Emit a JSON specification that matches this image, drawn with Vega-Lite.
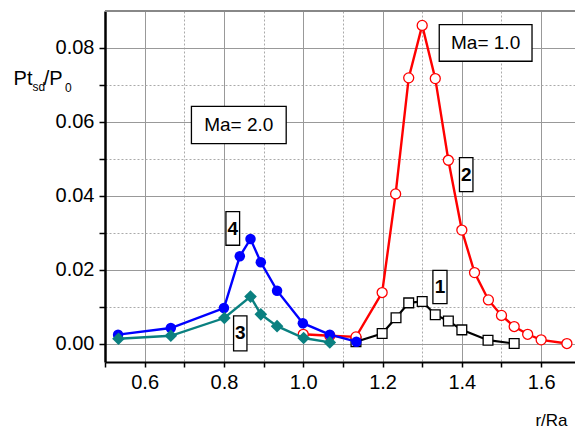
{
  "$schema": "https://vega.github.io/schema/vega-lite/v6.json",
  "width": 470,
  "height": 351,
  "autosize": {"type": "none"},
  "padding": {"left": 105, "top": 11, "right": 0, "bottom": 68},
  "background": "white",
  "config": {
    "view": {"stroke": null},
    "font": "Liberation Sans",
    "axis": {"labelFont": "Liberation Sans", "titleFont": "Liberation Sans"}
  },
  "datasets": {
    "curves": [
      {"r": 1.133, "p": 0.0005, "series": "1"},
      {"r": 1.199, "p": 0.0027, "series": "1"},
      {"r": 1.234, "p": 0.0070, "series": "1"},
      {"r": 1.266, "p": 0.0110, "series": "1"},
      {"r": 1.300, "p": 0.0114, "series": "1"},
      {"r": 1.333, "p": 0.0078, "series": "1"},
      {"r": 1.366, "p": 0.0061, "series": "1"},
      {"r": 1.400, "p": 0.0037, "series": "1"},
      {"r": 1.466, "p": 0.0009, "series": "1"},
      {"r": 1.532, "p": 0.0000, "series": "1"},
      {"r": 1.000, "p": 0.0025, "series": "2"},
      {"r": 1.067, "p": 0.0021, "series": "2"},
      {"r": 1.133, "p": 0.0018, "series": "2"},
      {"r": 1.199, "p": 0.0138, "series": "2"},
      {"r": 1.233, "p": 0.0405, "series": "2"},
      {"r": 1.266, "p": 0.0719, "series": "2"},
      {"r": 1.300, "p": 0.0861, "series": "2"},
      {"r": 1.333, "p": 0.0717, "series": "2"},
      {"r": 1.366, "p": 0.0496, "series": "2"},
      {"r": 1.400, "p": 0.0307, "series": "2"},
      {"r": 1.432, "p": 0.0192, "series": "2"},
      {"r": 1.467, "p": 0.0118, "series": "2"},
      {"r": 1.500, "p": 0.0076, "series": "2"},
      {"r": 1.532, "p": 0.0046, "series": "2"},
      {"r": 1.566, "p": 0.0025, "series": "2"},
      {"r": 1.600, "p": 0.0010, "series": "2"},
      {"r": 1.665, "p": 0.0000, "series": "2"},
      {"r": 0.534, "p": 0.0013, "series": "3"},
      {"r": 0.666, "p": 0.0021, "series": "3"},
      {"r": 0.801, "p": 0.0069, "series": "3"},
      {"r": 0.867, "p": 0.0127, "series": "3"},
      {"r": 0.893, "p": 0.0079, "series": "3"},
      {"r": 0.934, "p": 0.0047, "series": "3"},
      {"r": 1.001, "p": 0.0015, "series": "3"},
      {"r": 1.067, "p": 0.0003, "series": "3"},
      {"r": 0.533, "p": 0.0024, "series": "4"},
      {"r": 0.666, "p": 0.0042, "series": "4"},
      {"r": 0.800, "p": 0.0096, "series": "4"},
      {"r": 0.840, "p": 0.0236, "series": "4"},
      {"r": 0.867, "p": 0.0283, "series": "4"},
      {"r": 0.893, "p": 0.0220, "series": "4"},
      {"r": 0.934, "p": 0.0143, "series": "4"},
      {"r": 0.999, "p": 0.0055, "series": "4"},
      {"r": 1.067, "p": 0.0024, "series": "4"},
      {"r": 1.134, "p": 0.0005, "series": "4"}
    ],
    "boxes": [
      {"x1": 1.343, "x2": 1.577, "y1": 0.0764, "y2": 0.0863, "cx": 1.460, "cy": 0.0814, "label": "Ma= 1.0", "kind": "ma"},
      {"x1": 0.718, "x2": 0.957, "y1": 0.0541, "y2": 0.0642, "cx": 0.8374, "cy": 0.0592, "label": "Ma= 2.0", "kind": "ma"},
      {"x1": 0.805, "x2": 0.8395, "y1": 0.0266, "y2": 0.0357, "cx": 0.822, "cy": 0.0311, "label": "4", "kind": "num"},
      {"x1": 0.8243, "x2": 0.858, "y1": -0.0020, "y2": 0.0075, "cx": 0.841, "cy": 0.0028, "label": "3", "kind": "num"},
      {"x1": 1.394, "x2": 1.428, "y1": 0.0411, "y2": 0.0503, "cx": 1.411, "cy": 0.0457, "label": "2", "kind": "num"},
      {"x1": 1.327, "x2": 1.3626, "y1": 0.0108, "y2": 0.0198, "cx": 1.345, "cy": 0.0153, "label": "1", "kind": "num"}
    ],
    "titles": [
      {"tx": 0.2695, "ty": 0.0701, "t": "Pt", "sz": 20},
      {"tx": 0.3174, "ty": 0.0683, "t": "sd", "sz": 12},
      {"tx": 0.3456, "ty": 0.0701, "t": "/P", "sz": 20},
      {"tx": 0.3994, "ty": 0.0681, "t": "0", "sz": 12},
      {"tx": 1.5855, "ty": -0.0222, "t": "r/Ra", "sz": 17}
    ],
    "border": [{"yb": 0.09}]
  },
  "layer": [
    {
      "data": {"name": "curves"},
      "mark": {"type": "point", "opacity": 0},
      "encoding": {
        "x": {
          "field": "r", "type": "quantitative",
          "scale": {"domain": [0.5, 1.6854], "nice": false, "zero": false},
          "axis": {
            "orient": "bottom", "title": null,
            "values": [0.5, 0.6, 0.7, 0.8, 0.9, 1.0, 1.1, 1.2, 1.3, 1.4, 1.5, 1.6],
            "labelExpr": "round(datum.value*10) % 2 === 0 && datum.value > 0.55 ? format(datum.value, '.1f') : ''",
            "labelFontSize": 20, "labelColor": "black", "labelPadding": 5,
            "domainColor": "black", "domainWidth": 2,
            "tickColor": "black", "tickWidth": 1.5, "tickSize": 5,
            "grid": true,
            "gridColor": {"condition": {"test": "round(datum.value*10) % 2 === 1", "value": "#aaaaaa"}, "value": "#999999"},
            "gridDash": {"condition": {"test": "round(datum.value*10) % 2 === 1", "value": [2, 2]}, "value": []},
            "gridWidth": 1
          }
        },
        "y": {
          "field": "p", "type": "quantitative",
          "scale": {"domain": [-0.005, 0.09], "nice": false, "zero": false},
          "axis": {
            "orient": "left", "title": null,
            "values": [0, 0.01, 0.02, 0.03, 0.04, 0.05, 0.06, 0.07, 0.08],
            "labelExpr": "round(datum.value*100) % 2 === 0 ? format(datum.value, '.2f') : ''",
            "labelFontSize": 20, "labelColor": "black", "labelPadding": 5,
            "domainColor": "black", "domainWidth": 2.5,
            "tickColor": "black", "tickWidth": 1.5, "tickSize": 6,
            "grid": true,
            "gridColor": {"condition": {"test": "round(datum.value*100) % 2 === 1", "value": "#aaaaaa"}, "value": "#999999"},
            "gridDash": {"condition": {"test": "round(datum.value*100) % 2 === 1", "value": [2, 2]}, "value": []},
            "gridWidth": 1
          }
        }
      }
    },
    {
      "data": {"name": "border"},
      "mark": {"type": "rule", "color": "#888888", "strokeWidth": 2},
      "encoding": {"y": {"field": "yb", "type": "quantitative"}}
    },
    {
      "data": {"name": "curves"},
      "transform": [{"filter": "datum.series === '1'"}],
      "mark": {"type": "line", "color": "black", "strokeWidth": 2.2},
      "encoding": {"x": {"field": "r", "type": "quantitative"}, "y": {"field": "p", "type": "quantitative"}}
    },
    {
      "data": {"name": "curves"},
      "transform": [{"filter": "datum.series === '1'"}],
      "mark": {"type": "point", "shape": "square", "filled": true, "fill": "white", "stroke": "black", "strokeWidth": 1.3, "size": 95, "opacity": 1},
      "encoding": {"x": {"field": "r", "type": "quantitative"}, "y": {"field": "p", "type": "quantitative"}}
    },
    {
      "data": {"name": "curves"},
      "transform": [{"filter": "datum.series === '2'"}],
      "mark": {"type": "line", "color": "#ff0000", "strokeWidth": 2.4},
      "encoding": {"x": {"field": "r", "type": "quantitative"}, "y": {"field": "p", "type": "quantitative"}}
    },
    {
      "data": {"name": "curves"},
      "transform": [{"filter": "datum.series === '2'"}],
      "mark": {"type": "point", "shape": "circle", "filled": true, "fill": "white", "stroke": "#ff0000", "strokeWidth": 1.3, "size": 100, "opacity": 1},
      "encoding": {"x": {"field": "r", "type": "quantitative"}, "y": {"field": "p", "type": "quantitative"}}
    },
    {
      "data": {"name": "curves"},
      "transform": [{"filter": "datum.series === '4'"}],
      "mark": {"type": "line", "color": "#0000ff", "strokeWidth": 2.4},
      "encoding": {"x": {"field": "r", "type": "quantitative"}, "y": {"field": "p", "type": "quantitative"}}
    },
    {
      "data": {"name": "curves"},
      "transform": [{"filter": "datum.series === '4'"}],
      "mark": {"type": "point", "shape": "circle", "filled": true, "color": "#0000ff", "size": 110, "opacity": 1},
      "encoding": {"x": {"field": "r", "type": "quantitative"}, "y": {"field": "p", "type": "quantitative"}}
    },
    {
      "data": {"name": "curves"},
      "transform": [{"filter": "datum.series === '3'"}],
      "mark": {"type": "line", "color": "#0a8080", "strokeWidth": 2.4},
      "encoding": {"x": {"field": "r", "type": "quantitative"}, "y": {"field": "p", "type": "quantitative"}}
    },
    {
      "data": {"name": "curves"},
      "transform": [{"filter": "datum.series === '3'"}],
      "mark": {"type": "point", "shape": "diamond", "filled": true, "color": "#0a8080", "size": 160, "opacity": 1},
      "encoding": {"x": {"field": "r", "type": "quantitative"}, "y": {"field": "p", "type": "quantitative"}}
    },
    {
      "data": {"name": "boxes"},
      "mark": {"type": "rect", "fill": "white", "stroke": "black", "strokeWidth": 1.3},
      "encoding": {
        "x": {"field": "x1", "type": "quantitative"}, "x2": {"field": "x2"},
        "y": {"field": "y1", "type": "quantitative"}, "y2": {"field": "y2"}
      }
    },
    {
      "data": {"name": "boxes"},
      "transform": [{"filter": "datum.kind === 'ma'"}],
      "mark": {"type": "text", "fontSize": 19, "align": "center", "baseline": "middle", "color": "black", "font": "Liberation Sans"},
      "encoding": {
        "x": {"field": "cx", "type": "quantitative"}, "y": {"field": "cy", "type": "quantitative"},
        "text": {"field": "label"}
      }
    },
    {
      "data": {"name": "boxes"},
      "transform": [{"filter": "datum.kind === 'num'"}],
      "mark": {"type": "text", "fontSize": 19, "fontWeight": "bold", "align": "center", "baseline": "middle", "color": "black", "font": "Liberation Sans"},
      "encoding": {
        "x": {"field": "cx", "type": "quantitative"}, "y": {"field": "cy", "type": "quantitative"},
        "text": {"field": "label"}
      }
    },
    {
      "data": {"name": "titles"},
      "mark": {"type": "text", "align": "left", "baseline": "alphabetic", "color": "black", "font": "Liberation Sans"},
      "encoding": {
        "x": {"field": "tx", "type": "quantitative"}, "y": {"field": "ty", "type": "quantitative"},
        "text": {"field": "t"},
        "size": {"field": "sz", "type": "quantitative", "scale": null}
      }
    }
  ]
}
